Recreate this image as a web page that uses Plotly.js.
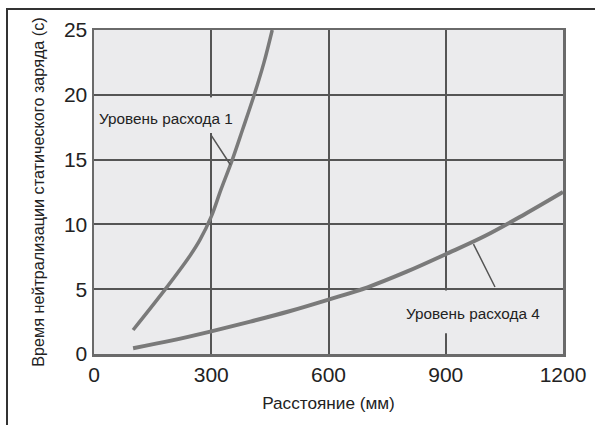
<!DOCTYPE html>
<html>
<head>
<meta charset="utf-8">
<script src="https://cdn.plot.ly/plotly-3.0.1.min.js"></script>
<style>
  html, body { margin: 0; padding: 0; background: #fff; }
  #wrap { position: relative; width: 595px; height: 425px; overflow: hidden; }
  #chart { position: absolute; left: 0; top: 0; width: 595px; height: 425px; }
  #frame { position: absolute; left: 6px; top: 8px; width: 600px; height: 430px;
           border-left: 2px solid #333; border-top: 2px solid #333; pointer-events: none; }
</style>
</head>
<body>
<div id="wrap">
  <div id="chart"></div>
  <div id="frame"></div>
</div>
<script>
// Flow level 1 curve
const level1X = [100, 185, 246, 271, 300, 325, 354, 380, 410, 435, 456];
const level1Y = [1.85, 5.1, 7.6, 8.8, 10.6, 12.7, 15, 17.3, 20, 22.5, 25];
// Flow level 4 curve
const level4X = [100, 200, 300, 400, 500, 600, 700, 800, 900, 1000, 1100, 1200];
const level4Y = [0.45, 1.05, 1.75, 2.5, 3.3, 4.2, 5.15, 6.35, 7.7, 9.1, 10.75, 12.5];

const xTicks = [0, 300, 600, 900, 1200];
const yTicks = [0, 5, 10, 15, 20, 25];
const label1 = 'Уровень расхода 1';
const label4 = 'Уровень расхода 4';
const xTitle = 'Расстояние (мм)';
const yTitle = 'Время нейтрализации статического заряда (с)';

const regular = '"Liberation Sans", Arial, sans-serif';
const curveColor = '#7a7a7a';
const gridColor = '#555555';
const plotBg = '#ebebed';

const traces = [
  { x: level1X, y: level1Y, mode: 'lines', line: { color: curveColor, width: 3.5, shape: 'spline', smoothing: 1 }, hoverinfo: 'skip' },
  { x: level4X, y: level4Y, mode: 'lines', line: { color: curveColor, width: 4, shape: 'spline', smoothing: 1 }, hoverinfo: 'skip' }
];

const layout = {
  width: 595, height: 425,
  margin: { l: 94, r: 32, t: 30, b: 71 },
  paper_bgcolor: 'rgba(0,0,0,0)',
  plot_bgcolor: plotBg,
  showlegend: false,
  xaxis: {
    range: [0, 1200], tickvals: xTicks, ticktext: xTicks.map(String),
    showgrid: true, gridcolor: gridColor, gridwidth: 2,
    zeroline: false, showline: true, linecolor: '#6a6a6a', linewidth: 2.5, mirror: true,
    ticks: '', ticklen: 0, tickfont: { family: regular, size: 21, color: '#222' },
    title: { text: xTitle, font: { family: regular, size: 17.2, color: '#222' }, standoff: 13 }
  },
  yaxis: {
    range: [0, 25], tickvals: yTicks, ticktext: yTicks.map(String),
    showgrid: true, gridcolor: gridColor, gridwidth: 2,
    zeroline: false, showline: true, linecolor: '#6a6a6a', linewidth: 2.5, mirror: true,
    ticks: '', ticklen: 0, tickfont: { family: regular, size: 21, color: '#222' },
    title: { text: yTitle, font: { family: regular, size: 16.2, color: '#222' }, standoff: 16 }
  },
  shapes: [
    { type: 'rect', layer: 'between', xref: 'x', yref: 'y', x0: 285, x1: 315, y0: 17.05, y1: 19.8, fillcolor: plotBg, line: { width: 0 } },
    { type: 'rect', layer: 'between', xref: 'x', yref: 'y', x0: 885, x1: 915, y0: 1.6, y1: 4.9, fillcolor: plotBg, line: { width: 0 } }
  ],
  annotations: [
    { x: 184, y: 18.2, xref: 'x', yref: 'y', text: label1, showarrow: false, font: { family: regular, size: 15.3, color: '#222' } },
    { x: 349, y: 14.6, xref: 'x', yref: 'y', ax: 297, ay: 17.0, axref: 'x', ayref: 'y', text: '', showarrow: true, arrowhead: 0, arrowwidth: 1.5, arrowcolor: '#555' },
    { x: 969, y: 3.16, xref: 'x', yref: 'y', text: label4, showarrow: false, font: { family: regular, size: 15.3, color: '#222' } },
    { x: 1026, y: 5.17, xref: 'x', yref: 'y', ax: 969, ay: 8.6, axref: 'x', ayref: 'y', text: '', showarrow: true, arrowhead: 0, arrowwidth: 1.5, arrowcolor: '#555' }
  ]
};

Plotly.newPlot('chart', traces, layout, { staticPlot: true, displayModeBar: false });
</script>
</body>
</html>
